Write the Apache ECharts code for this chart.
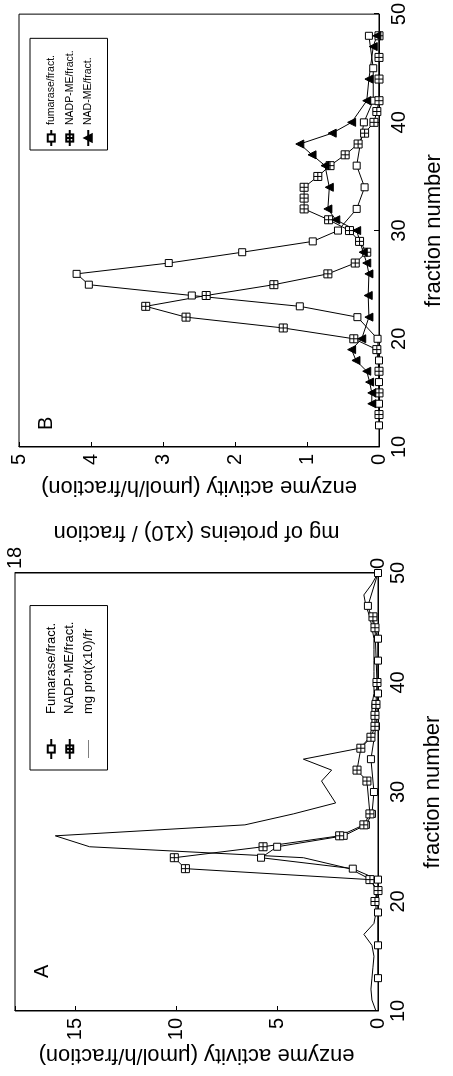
<!DOCTYPE html>
<html><head><meta charset="utf-8">
<script src="https://cdn.jsdelivr.net/npm/echarts@6/dist/echarts.min.js"></script>
<style>
html,body{margin:0;padding:0;width:453px;height:1076px;overflow:hidden;background:#fff}
#c{position:absolute;left:0;top:0;width:1076px;height:453px;transform-origin:0 0;transform:translate(0,1076px) rotate(-90deg);}
</style></head><body><div id="c"></div>
<script>
// ---------- data ----------
// Panel A
const fumA_frac = [13,16,19,22,23,24,25,26,27,28,30,33,36,39,42,44,47,50];
const fumA_val  = [0,0,0,0,1.25,5.8,5.0,1.7,0.6,0.3,0.2,0.35,0.1,0,0,0,0.5,0];
const nadpA_frac = [20,21,22,23,24,25,26,27,28,31,32,34,35,36,37,38,40,45,46];
const nadpA_val  = [0.15,0,0.4,9.55,10.1,5.7,1.9,0.7,0.4,0.55,1.04,0.85,0.35,0.15,0.15,0.1,0.05,0.15,0.25];
const protA_frac = [10,11,12,13,14,15,16,17,18,19,20,21,22,23,24,25,26,27,28,29,30,31,32,33,34,35,36,37,38,39,40,41,42,43,44,45,46,47,48,49,50];
const protA_val  = [0.1,0.3,0.35,0.3,0.25,0.2,0.3,0.7,0.2,0.1,0.1,0.1,0.35,1.4,3.7,14.3,16.0,6.6,4.2,2.1,2.45,2.8,2.3,3.7,0.9,0.4,0.3,0.3,0.3,0.2,0.2,0.2,0.2,0.2,0.2,0.3,0.4,0.6,0.7,0.3,0];
// Panel B
const fumB_frac = [12,14,16,18,20,22,23,24,25,26,27,28,29,30,32,34,36,40,42,45,48];
const fumB_val  = [0,0,0,0,0.02,0.3,1.1,2.6,4.03,4.2,2.92,1.9,0.92,0.57,0.31,0.2,0.31,0.21,0.08,0.08,0.14];
const nadpB_frac = [13,15,17,19,20,21,22,23,24,25,26,27,28,29,30,31,32,33,34,35,36,37,38,39,40,41,42,44,46,48];
const nadpB_val  = [0,0,0,0.03,0.35,1.33,2.68,3.24,2.4,1.46,0.71,0.33,0.17,0.27,0.41,0.7,1.04,1.04,1.04,0.85,0.68,0.47,0.29,0.2,0.07,0.03,0,0,0,0];
const nadB_frac = [14,15,16,17,18,19,20,22,24,26,27,28,30,31,32,34,36,37,38,39,40,42,44,47,48];
const nadB_val  = [0.1,0.1,0.13,0.17,0.32,0.38,0.24,0.14,0.15,0.14,0.17,0.22,0.31,0.6,0.71,0.69,0.75,0.93,1.1,0.65,0.38,0.17,0.14,0.08,0.03];
// axis ranges / labels
const fractionRange = [10, 50, 10];
const activityRangeA = [0, 18, 5];
const proteinRangeA = [0, 18, 18];
const activityRangeB = [0, 5, 1];
const legendA = ['Fumarase/fract.', 'NADP-ME/fract.', 'mg prot(x10)/fr'];
const legendB = ['fumarase/fract.', 'NADP-ME/fract.', 'NAD-ME/fract.'];
const activityTitle = 'enzyme activity (\u03bcmol/h/fraction)';
const proteinTitle = 'mg of proteins (x10) / fraction';
const fractionTitle = 'fraction number';

// ---------- chart ----------
const FONT = '"Liberation Sans", Arial, sans-serif';
const pair = (xs, ys) => xs.map((x, i) => [x, ys[i]]);
const crossSq = 'path://M0,0L10,0L10,10L0,10Z M5,0L5,10 M0,5L10,5';
const lineIcon = 'path://M0,0L0.01,0M0,4.6L20,4.6L20,5.4L0,5.4ZM19.99,10L20,10';
const lineStyle = { color: '#000', width: 1 };
const axisLine = { show: true, lineStyle: { color: '#000', width: 1 } };

function xAx(gi) {
  return {
    type: 'value', gridIndex: gi, min: fractionRange[0], max: fractionRange[1], interval: fractionRange[2],
    name: fractionTitle, nameLocation: 'middle', nameGap: 44,
    nameTextStyle: { fontSize: 22, color: '#000', fontFamily: FONT },
    axisLine: axisLine, axisTick: { show: true, inside: true, length: 5, lineStyle: { color: '#000' } },
    axisLabel: { fontSize: 20, color: '#000', margin: 10, fontFamily: FONT },
    splitLine: { show: false }
  };
}
function markerSeries(name, data, xi, yi, kind) {
  const s = {
    type: 'line', name: name, xAxisIndex: xi, yAxisIndex: yi, data: data,
    lineStyle: lineStyle, showSymbol: true, animation: false, z: 3
  };
  if (kind === 'sq') { s.symbol = 'rect'; s.symbolSize = 7; s.itemStyle = { color: '#fff', borderColor: '#000', borderWidth: 1 }; }
  if (kind === 'cross') { s.symbol = crossSq; s.symbolSize = 8; s.itemStyle = { color: '#fff', borderColor: '#000', borderWidth: 1 }; }
  if (kind === 'tri') { s.symbol = 'triangle'; s.symbolSize = 8; s.itemStyle = { color: '#000', borderColor: '#000', borderWidth: 1 }; }
  return s;
}

const chart = echarts.init(document.getElementById('c'), null, { renderer: 'canvas' });
chart.setOption({
  animation: false,
  backgroundColor: '#fff',
  textStyle: { fontFamily: FONT, color: '#000' },
  grid: [
    { left: 65, right: 573, top: 15, bottom: 75, show: true, borderColor: '#000', borderWidth: 1, backgroundColor: 'transparent' },
    { left: 629, right: 10, top: 19, bottom: 74, show: true, borderColor: '#000', borderWidth: 1, backgroundColor: 'transparent' }
  ],
  xAxis: [xAx(0), xAx(1)],
  yAxis: [
    {
      type: 'value', gridIndex: 0, min: activityRangeA[0], max: activityRangeA[1], interval: activityRangeA[2],
      name: activityTitle, nameLocation: 'middle', nameRotate: 90, nameGap: 27,
      nameTextStyle: { fontSize: 22, color: '#000', fontFamily: FONT },
      axisLine: axisLine, axisTick: { show: true, inside: true, length: 5, lineStyle: { color: '#000' } },
      axisLabel: { fontSize: 20, color: '#000', margin: 7, fontFamily: FONT, formatter: v => (v % 5 === 0 ? String(v) : '') },
      splitLine: { show: false }
    },
    {
      type: 'value', gridIndex: 0, position: 'right', min: proteinRangeA[0], max: proteinRangeA[1], interval: proteinRangeA[2],
      name: proteinTitle, nameLocation: 'middle', nameRotate: 90, nameGap: 19,
      nameTextStyle: { fontSize: 22, color: '#000', fontFamily: FONT },
      axisLine: axisLine, axisTick: { show: false },
      axisLabel: { fontSize: 20, color: '#000', margin: 4, fontFamily: FONT },
      splitLine: { show: false }
    },
    {
      type: 'value', gridIndex: 1, min: activityRangeB[0], max: activityRangeB[1], interval: activityRangeB[2],
      name: activityTitle, nameLocation: 'middle', nameRotate: 90, nameGap: 29,
      nameTextStyle: { fontSize: 22, color: '#000', fontFamily: FONT },
      axisLine: axisLine, axisTick: { show: true, inside: true, length: 5, lineStyle: { color: '#000' } },
      axisLabel: { fontSize: 20, color: '#000', margin: 7, fontFamily: FONT },
      splitLine: { show: false }
    }
  ],
  legend: [
    {
      data: [legendA[0], legendA[1], { name: legendA[2], icon: lineIcon, itemStyle: { color: '#000', borderWidth: 0 } }],
      orient: 'vertical', left: 306, top: 30, padding: [12, 16, 10, 10],
      itemWidth: 20, itemHeight: 9, itemGap: 0, selectedMode: false,
      textStyle: { fontSize: 13, lineHeight: 18.5, color: '#000', fontFamily: FONT, padding: [0, 0, 0, 20] },
      borderColor: '#000', borderWidth: 1, backgroundColor: '#fff'
    },
    {
      data: legendB, orient: 'vertical', left: 926, top: 30, padding: [12, 12, 10, 3],
      itemWidth: 16, itemHeight: 9, itemGap: 0, selectedMode: false,
      textStyle: { fontSize: 10.5, lineHeight: 18.5, color: '#000', fontFamily: FONT },
      borderColor: '#000', borderWidth: 1, backgroundColor: '#fff'
    }
  ],
  graphic: [
    { type: 'text', left: 98, top: 32, style: { text: 'A', fontSize: 20, fill: '#000', fontFamily: FONT } },
    { type: 'text', left: 646, top: 36, style: { text: 'B', fontSize: 20, fill: '#000', fontFamily: FONT } }
  ],
  series: [
    markerSeries(legendA[0], pair(fumA_frac, fumA_val), 0, 0, 'sq'),
    markerSeries(legendA[1], pair(nadpA_frac, nadpA_val), 0, 0, 'cross'),
    { type: 'line', name: legendA[2], xAxisIndex: 0, yAxisIndex: 1, data: pair(protA_frac, protA_val),
      showSymbol: false, symbol: 'none', lineStyle: lineStyle, itemStyle: { color: '#000' }, z: 2 },
    markerSeries(legendB[0], pair(fumB_frac, fumB_val), 1, 2, 'sq'),
    markerSeries(legendB[1], pair(nadpB_frac, nadpB_val), 1, 2, 'cross'),
    markerSeries(legendB[2], pair(nadB_frac, nadB_val), 1, 2, 'tri')
  ]
});
</script></body></html>
